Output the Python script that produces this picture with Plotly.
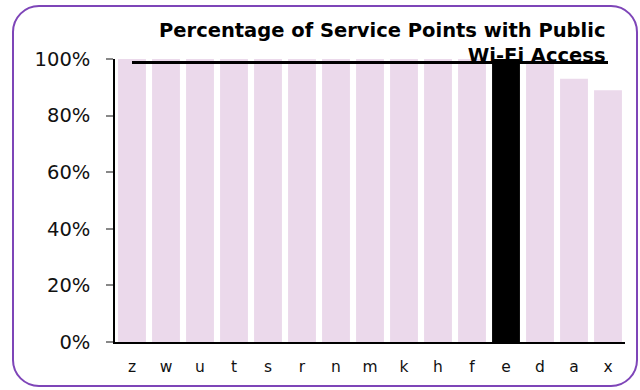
import plotly.graph_objects as go

# Share of service points offering public Wi-Fi, by authority
categories = ["z", "w", "u", "t", "s", "r", "n", "m", "k", "h", "f", "e", "d", "a", "x"]
wifi_share = [1.0, 1.0, 1.0, 1.0, 1.0, 1.0, 1.0, 1.0, 1.0, 1.0, 1.0, 1.0, 0.995, 0.93, 0.89]
highlight = "e"
y_ticks = [0, 0.2, 0.4, 0.6, 0.8, 1.0]
y_tick_labels = ["0%", "20%", "40%", "60%", "80%", "100%"]

average_share = sum(wifi_share) / len(wifi_share)

W, H = 640, 390
L, R, T, B = 115, 15, 59, 48
pw, ph = W - L - R, H - T - B

bar_colors = ["#000000" if c == highlight else "#EBD9EB" for c in categories]

fig = go.Figure()
fig.add_trace(go.Bar(
    x=categories, y=wifi_share,
    marker=dict(color=bar_colors, line=dict(width=0)),
    hoverinfo="skip",
))
fig.add_trace(go.Scatter(
    x=categories, y=[average_share] * len(categories),
    mode="lines", line=dict(color="#000000", width=3),
    hoverinfo="skip",
))


def px_to_paper_x(v):
    return (v - L) / pw


def px_to_paper_y(v):
    return (H - B - v) / ph


# Rounded frame around the whole chart
x0, x1, y0, y1, r = 13, 637, 6, 386, 26
X0, X1 = px_to_paper_x(x0), px_to_paper_x(x1)
Y0, Y1 = px_to_paper_y(y0), px_to_paper_y(y1)
rx = r / pw
ry = r / ph
k = 0.5523
path = (
    f"M {X0 + rx},{Y0} L {X1 - rx},{Y0} "
    f"C {X1 - rx + k * rx},{Y0} {X1},{Y0 - ry + k * ry} {X1},{Y0 - ry} "
    f"L {X1},{Y1 + ry} "
    f"C {X1},{Y1 + ry - k * ry} {X1 - rx + k * rx},{Y1} {X1 - rx},{Y1} "
    f"L {X0 + rx},{Y1} "
    f"C {X0 + rx - k * rx},{Y1} {X0},{Y1 + ry - k * ry} {X0},{Y1 + ry} "
    f"L {X0},{Y0 - ry} "
    f"C {X0},{Y0 - ry + k * ry} {X0 + rx - k * rx},{Y0} {X0 + rx},{Y0} Z"
)
fig.add_shape(type="path", path=path, xref="paper", yref="paper",
              line=dict(color="#7E45B8", width=2), fillcolor="rgba(0,0,0,0)")

fig.add_annotation(
    text="<b>Percentage of Service Points with Public<br>Wi-Fi Access</b>",
    xref="paper", yref="paper",
    x=px_to_paper_x(608), y=px_to_paper_y(17),
    xanchor="right", yanchor="top", align="right", showarrow=False,
    font=dict(family="DejaVu Sans", size=19.5, color="#000000"),
)

fig.update_layout(
    width=W, height=H,
    margin=dict(l=L, r=R, t=T, b=B, pad=0),
    paper_bgcolor="#FFFFFF", plot_bgcolor="#FFFFFF",
    showlegend=False,
    bargap=0.18,
    font=dict(family="DejaVu Sans", color="#000000"),
)
fig.update_xaxes(
    showline=True, linecolor="#000000", linewidth=1.5,
    ticks="", showgrid=False, zeroline=False,
    ticklabelstandoff=10,
    tickfont=dict(size=15.5, family="DejaVu Sans", color="#111111"),
)
fig.update_yaxes(
    range=[0, 1], tickvals=y_ticks, ticktext=y_tick_labels,
    showline=True, linecolor="#000000", linewidth=1.5,
    ticks="outside", ticklen=7, tickcolor="#888888", tickwidth=1.5,
    showgrid=False, zeroline=False,
    ticklabelstandoff=12,
    tickfont=dict(size=19.5, family="DejaVu Sans", color="#111111"),
)

fig.write_html("out.html")
